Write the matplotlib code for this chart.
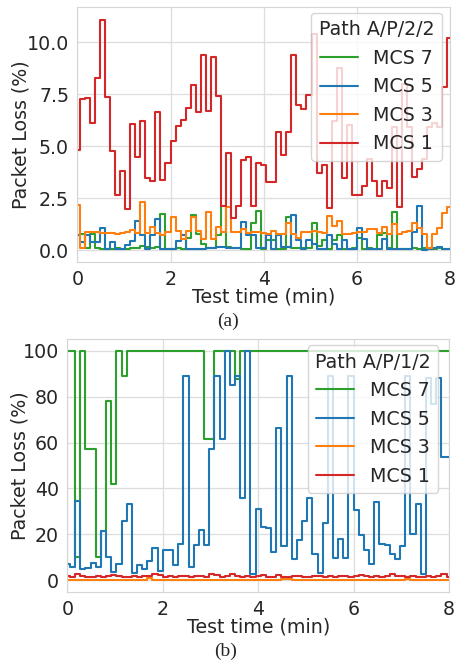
"""Packet loss vs test time for two paths, one panel per path."""
import numpy as np
import matplotlib
matplotlib.use("Agg")
import matplotlib.pyplot as plt
import seaborn as sns

# samples every ~6.5 s over the 8 min test
n_samples = 75
labels = ["MCS 7", "MCS 5", "MCS 3", "MCS 1"]
colors = ["#2ca02c", "#1f77b4", "#ff7f0e", "#d62728"]

# (a) Path A/P/2/2
a_mcs7 = [0.7, 0.75, 0.1, 0.75, 0.1, 0.05, 0.05, 0.05, 0.1, 0.05,
          0.05, 0.1, 0.1, 0.2, 0.15, 0.1, 0.15, 1.75, 0.05, 0.05,
          0.1, 0.05, 0.6, 1.7, 0.75, 0.3, 0.1, 0.1, 0.7, 2.1,
          0.15, 0.1, 0.1, 0.05, 0.05, 1.3, 1.9, 0.05, 0.5, 0.5,
          0.05, 0.05, 1.6, 0.1, 0.1, 0.1, 0.1, 1.3, 0.2, 0.5,
          0.05, 0.5, 0.7, 0.05, 0.05, 0.1, 0.6, 0.05, 0.1, 0.05,
          0.7, 0.8, 0.1, 1.85, 0.05, 0.05, 0.05, 0.1, 0.05, 0.1,
          0.05, 0.05, 0.1, 0.05, 0.05]
a_mcs5 = [0.72, 0.4, 0.7, 0.4, 0.4, 1.05, 0.05, 0.37, 0.05, 0.05,
          0.25, 0.45, 1.4, 0.7, 0.05, 0.7, 1.5, 0.05, 0.05, 0.05,
          0.45, 0.7, 0.05, 0.05, 0.05, 0.05, 0.1, 0.1, 0.15, 0.15,
          0.1, 0.1, 0.1, 1.35, 0.7, 0.7, 0.1, 0.1, 0.7, 0.05,
          0.7, 0.15, 0.15, 1.7, 0.5, 0.05, 0.5, 0.3, 0.05, 0.05,
          0.7, 0.3, 0.05, 0.5, 0.05, 0.05, 1.05, 0.55, 0.05, 0.05,
          0.05, 0.55, 0.05, 0.05, 0.05, 0.05, 0.05, 0.85, 2.1, 0.0,
          0.05, 0.1, 0.15, 0.05, 0.05]
a_mcs3 = [2.16, 0.1, 0.85, 0.85, 0.85, 0.8, 0.8, 0.8, 0.78, 0.8,
          0.85, 0.96, 0.8, 2.3, 0.8, 1.1, 0.8, 0.7, 0.85, 1.6,
          0.9, 0.55, 0.9, 1.6, 0.9, 0.55, 1.84, 0.55, 1.1, 0.85,
          2.08, 0.85, 0.85, 1.0, 0.8, 0.85, 0.85, 0.8, 0.75, 0.9,
          0.75, 0.75, 1.3, 0.75, 0.6, 0.85, 0.85, 0.9, 0.85, 0.8,
          1.65, 1.15, 1.4, 0.75, 0.75, 0.8, 0.85, 0.85, 1.0, 1.0,
          0.8, 1.1, 0.75, 1.25, 0.75, 0.85, 0.9, 1.3, 1.05, 0.75,
          0.1, 0.75, 1.05, 1.8, 2.05]
a_mcs1 = [4.8, 7.24, 7.3, 6.1, 8.25, 11.06, 7.37, 4.78, 2.64, 3.81,
          1.97, 6.04, 4.49, 6.22, 3.45, 3.32, 6.65, 3.37, 4.17, 5.24,
          5.98, 6.25, 6.84, 7.93, 6.65, 9.38, 6.7, 9.3, 7.4, 2.1,
          4.65, 1.52, 2.1, 4.33, 4.49, 2.1, 4.2, 4.1, 3.29, 3.26,
          5.69, 4.57, 5.69, 9.38, 6.97, 6.8, 7.45, 10.4, 3.69, 4.1,
          2.0, 6.2, 8.75, 3.45, 6.0, 2.64, 2.64, 3.1, 4.4, 3.3,
          2.6, 3.3, 3.0, 5.9, 2.08, 8.0, 5.9, 3.5, 3.9, 4.4,
          5.9, 6.1, 5.9, 7.82, 10.2]

# (b) Path A/P/1/2
b_mcs7 = [100, 100, 10.1, 100, 57.4, 57.4, 10.1, 21.3, 78, 42,
          100, 89, 100, 100, 100, 100, 100, 100, 100, 100,
          100, 100, 100, 100, 100, 100, 100, 61.7, 61.7, 100,
          100, 100, 100, 87.5, 100, 100, 100, 100, 100, 100,
          100, 100, 100, 100, 100, 100, 100, 100, 100, 100,
          100, 100, 100, 100, 100, 100, 100, 100, 100, 100,
          100, 100, 100, 100, 100, 100, 100, 100, 100, 100,
          100, 100, 100, 100, 100]
b_mcs5 = [6.9, 5.8, 34.4, 4.8, 5.5, 7.7, 5.8, 21.3, 10.1, 3.6,
          7.2, 25.6, 33.3, 3.2, 6.5, 4.8, 8.2, 14, 3.9, 13.3,
          13.3, 6.5, 15.9, 88.9, 5.8, 15.2, 22, 15.2, 57.1, 88.9,
          61.7, 100, 84.9, 88.9, 35.7, 100, 2.9, 31, 23.4, 22.8,
          12.3, 66.5, 14.8, 88.9, 9.4, 17.6, 26, 35.9, 11.6, 3.2,
          24.9, 89, 9.8, 17.8, 9.8, 89, 30.4, 19.5, 13, 7.2,
          34, 15.6, 15.2, 11.6, 9.4, 15, 89, 20, 33, 2.5,
          88, 76.6, 88, 53.5, 53.5]
b_mcs3 = [0.2, 0.1, 0.2, 0.1, 0.2, 0.1, 0.1, 0.2, 0.1, 0.1,
          0.2, 0.1, 0.1, 0.1, 0.2, 0.1, 1.0, 0.2, 0.1, 0.1,
          0.2, 0.1, 0.1, 0.2, 0.1, 0.1, 0.1, 0.2, 0.1, 0.1,
          0.2, 0.1, 0.1, 0.2, 0.1, 0.1, 0.2, 0.1, 0.1, 0.1,
          0.2, 0.1, 0.6, 0.7, 0.2, 0.1, 0.1, 0.1, 0.2, 0.1,
          0.1, 0.1, 0.2, 0.1, 0.1, 0.1, 0.2, 0.1, 0.1, 0.1,
          0.1, 0.2, 0.1, 0.1, 0.1, 0.1, 0.6, 0.1, 0.2, 0.1,
          0.1, 0.1, 0.2, 0.1, 0.1]
b_mcs1 = [1.7, 1.5, 2.5, 1.9, 1.5, 1.6, 2.0, 1.6, 1.8, 2.4,
          1.7, 1.6, 1.5, 1.8, 1.6, 1.7, 2.0, 2.6, 2.2, 1.6,
          1.8, 1.6, 1.7, 1.9, 1.6, 1.7, 2.0, 1.6, 2.9, 2.2,
          1.6, 1.8, 2.8, 1.8, 1.5, 2.0, 1.6, 1.7, 2.3, 1.5,
          1.6, 2.3, 1.6, 1.6, 1.7, 2.0, 1.5, 1.6, 1.8, 1.7,
          1.5, 1.8, 1.6, 2.0, 1.7, 1.6, 1.7, 2.4, 1.8, 1.6,
          1.7, 1.5, 1.8, 2.6, 1.9, 1.7, 1.6, 1.8, 1.6, 1.5,
          1.7, 1.6, 1.9, 2.5, 1.6]

sns.set_style("whitegrid")
plt.rcParams["font.family"] = ["DejaVu Sans"]
FS = 13.7


def draw_panel(ax, series, title, ylim, legend_xy):
    t = np.linspace(0, 8, n_samples)
    for vals, lab, col in zip(series, labels, colors):
        ax.plot(t, vals, drawstyle="steps-mid", color=col, lw=1.5, label=lab)
    ax.set_xlim(0, 8)
    ax.set_ylim(*ylim)
    ax.set_xticks([0, 2, 4, 6, 8])
    ax.tick_params(labelsize=FS, colors=".15")
    ax.tick_params(axis="x", pad=2.5)
    ax.tick_params(axis="y", pad=2.5)
    ax.grid(color="#dddddd", lw=0.9)
    for sp in ax.spines.values():
        sp.set_color("#d5d5d5")
    ax.set_xlabel("Test time (min)", fontsize=FS, color=".15")
    ax.set_ylabel("Packet Loss (%)", fontsize=FS, color=".15")
    ax.legend(title=title, fontsize=FS, title_fontsize=FS, loc="upper right",
              bbox_to_anchor=legend_xy, borderaxespad=0, framealpha=0.8)


fig = plt.figure(figsize=(4.55, 6.62), dpi=100)
ax_a = fig.add_axes([0.170, 0.6047, 0.819, 0.3843])
ax_b = fig.add_axes([0.148, 0.1062, 0.839, 0.3813])

draw_panel(ax_a, [a_mcs7, a_mcs5, a_mcs3, a_mcs1], "Path A/P/2/2",
           (-0.56, 11.67), (0.9785, 0.9788))
ax_a.set_yticks([0, 2.5, 5, 7.5, 10])
ax_a.set_yticklabels(["0.0", "2.5", "5.0", "7.5", "10.0"])
ax_a.yaxis.set_label_coords(-0.125, 0.5)
ax_a.xaxis.set_label_coords(0.5, -0.102)

draw_panel(ax_b, [b_mcs7, b_mcs5, b_mcs3, b_mcs1], "Path A/P/1/2",
           (-5, 105), (0.972, 0.9774))
ax_b.set_yticks([0, 20, 40, 60, 80, 100])
ax_b.yaxis.set_label_coords(-0.1, 0.5)
ax_b.xaxis.set_label_coords(0.5, -0.102)

cap = dict(family=["Liberation Serif", "DejaVu Serif"], fontsize=14,
           ha="center", va="center")
fig.text(228 / 455, 1 - 321 / 662, "(a)", **cap)
fig.text(226 / 455, 1 - 651.5 / 662, "(b)", **cap)

fig.savefig("out.png", dpi=100)
